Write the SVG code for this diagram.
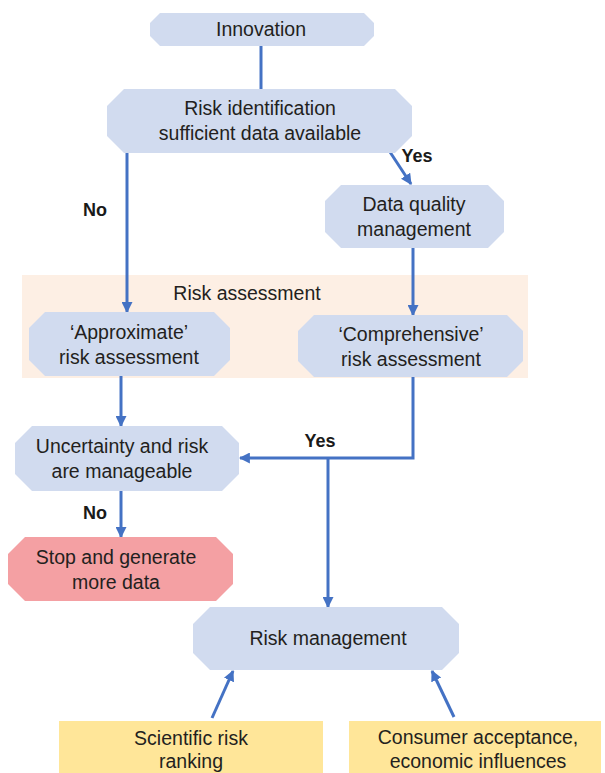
<svg xmlns="http://www.w3.org/2000/svg" width="605" height="773" viewBox="0 0 605 773">
  <defs>
    <marker id="arrow" viewBox="0 0 10 10" refX="9" refY="5" markerWidth="11" markerHeight="11" markerUnits="userSpaceOnUse" orient="auto">
      <path d="M0,0 L10,5 L0,10 Z" fill="#4472C4"/>
    </marker>
    <style>
      .node { fill: #D1DBEF; }
      .stop { fill: #F4A0A3; }
      .input { fill: #FFE699; }
      .band { fill: #FDEFE4; }
      .label { font-family: "Liberation Sans", Arial, sans-serif; font-size: 19.5px; fill: #231F20; text-anchor: middle; }
      .cond { font-family: "Liberation Sans", Arial, sans-serif; font-size: 18px; font-weight: bold; fill: #1A1A1A; text-anchor: middle; }
      .link { fill: none; stroke: #4472C4; stroke-width: 3; }
    </style>
  </defs>

  <rect width="605" height="773" fill="#FFFFFF"/>

  <!-- risk assessment band -->
  <g id="risk-assessment-band">
    <rect class="band" x="22" y="275" width="506" height="103"/>
    <text class="label" x="247" y="300">Risk assessment</text>
  </g>

  <!-- connectors -->
  <g id="connectors">
    <path class="link" d="M261,46 V89"/>
    <path class="link" d="M127,153 V312" marker-end="url(#arrow)"/>
    <path class="link" d="M390,152 L411,184" marker-end="url(#arrow)"/>
    <path class="link" d="M413,248 V315" marker-end="url(#arrow)"/>
    <path class="link" d="M121,376 V426" marker-end="url(#arrow)"/>
    <path class="link" d="M413,377 V458 H240" marker-end="url(#arrow)"/>
    <path class="link" d="M328,458 V607" marker-end="url(#arrow)"/>
    <path class="link" d="M121,491 V537" marker-end="url(#arrow)"/>
    <path class="link" d="M212,718 L233,671" marker-end="url(#arrow)"/>
    <path class="link" d="M454,717 L432,671" marker-end="url(#arrow)"/>
    <text class="cond" x="95" y="216">No</text>
    <text class="cond" x="417" y="162">Yes</text>
    <text class="cond" x="320" y="447">Yes</text>
    <text class="cond" x="95" y="519">No</text>
  </g>

  <g id="innovation">
    <path class="node" d="M160,13 H364 L374,23 V36 L364,46 H160 L150,36 V23 Z"/>
    <text class="label" x="261" y="36">Innovation</text>
  </g>

  <g id="risk-identification">
    <path class="node" d="M124,89 H395 L412,106 V136 L395,153 H124 L107,136 V106 Z"/>
    <text class="label" x="260" y="115">Risk identification</text>
    <text class="label" x="260" y="140">sufficient data available</text>
  </g>

  <g id="data-quality">
    <path class="node" d="M341,185 H488 L504,201 V232 L488,248 H341 L325,232 V201 Z"/>
    <text class="label" x="414" y="211">Data quality</text>
    <text class="label" x="414" y="236">management</text>
  </g>

  <g id="approximate-assessment">
    <path class="node" d="M45,312 H214 L230,328 V360 L214,376 H45 L29,360 V328 Z"/>
    <text class="label" x="129" y="339">‘Approximate’</text>
    <text class="label" x="129" y="364">risk assessment</text>
  </g>

  <g id="comprehensive-assessment">
    <path class="node" d="M314,315 H507 L523,331 V361 L507,377 H314 L298,361 V331 Z"/>
    <text class="label" x="411" y="341">‘Comprehensive’</text>
    <text class="label" x="411" y="366">risk assessment</text>
  </g>

  <g id="uncertainty">
    <path class="node" d="M32,426 H222 L239,443 V474 L222,491 H32 L15,474 V443 Z"/>
    <text class="label" x="122" y="453">Uncertainty and risk</text>
    <text class="label" x="122" y="478">are manageable</text>
  </g>

  <g id="stop">
    <path class="stop" d="M25,537 H216 L233,554 V584 L216,601 H25 L8,584 V554 Z"/>
    <text class="label" x="116" y="564">Stop and generate</text>
    <text class="label" x="116" y="589">more data</text>
  </g>

  <g id="risk-management">
    <path class="node" d="M210,607 H442 L459,624 V653 L442,670 H210 L193,653 V624 Z"/>
    <text class="label" x="328" y="645">Risk management</text>
  </g>

  <g id="scientific-ranking">
    <rect class="input" x="59" y="721" width="264" height="60"/>
    <text class="label" x="191" y="745">Scientific risk</text>
    <text class="label" x="191" y="768">ranking</text>
  </g>

  <g id="consumer-acceptance">
    <rect class="input" x="349" y="721" width="252" height="60"/>
    <text class="label" x="478" y="744">Consumer acceptance,</text>
    <text class="label" x="478" y="768">economic influences</text>
  </g>
</svg>
